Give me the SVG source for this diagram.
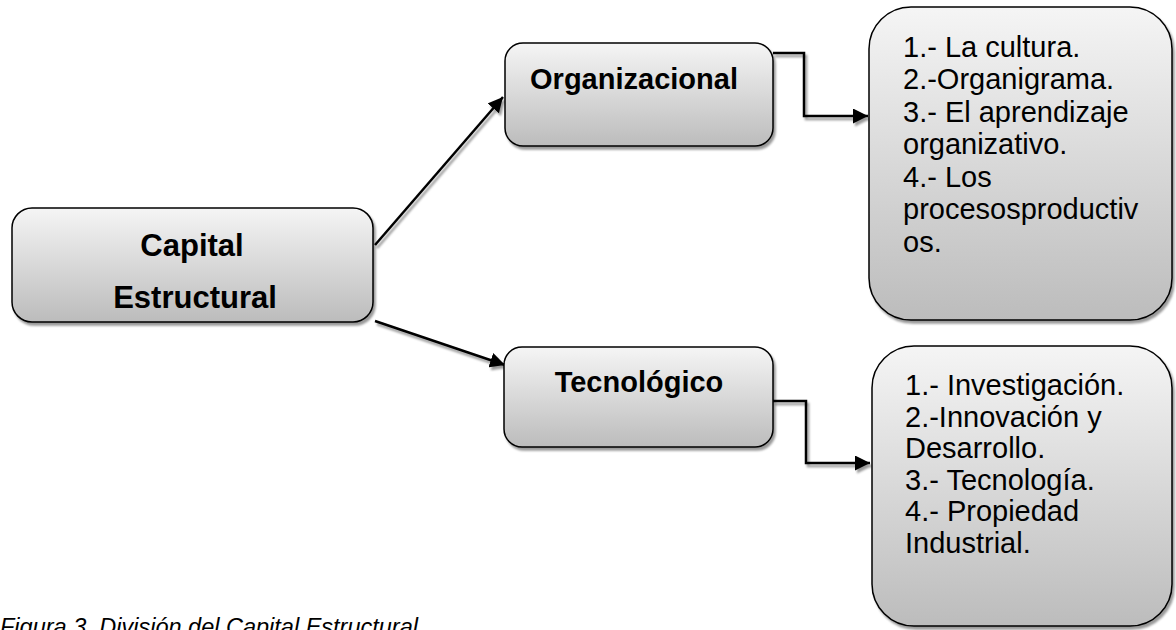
<svg xmlns="http://www.w3.org/2000/svg" width="1176" height="630" viewBox="0 0 1176 630">
  <defs>
    <linearGradient id="g" x1="0" y1="0" x2="0" y2="1">
      <stop offset="0" stop-color="#f5f5f5"/>
      <stop offset="1" stop-color="#bcbcbc"/>
    </linearGradient>
    <filter id="sh" x="-10%" y="-10%" width="130%" height="130%">
      <feDropShadow dx="2" dy="3" stdDeviation="1" flood-color="#000" flood-opacity="0.4"/>
    </filter>
    <marker id="ah" viewBox="0 0 10 10" refX="10" refY="5" markerWidth="15" markerHeight="15" markerUnits="userSpaceOnUse" orient="auto">
      <path d="M0,0 L10,5 L0,10 z" fill="#000"/>
    </marker>
    <style>
      .box { fill: url(#g); stroke: #000; stroke-width: 1.5; filter: url(#sh); }
      .bold { font-family: "Liberation Sans", Arial, sans-serif; font-weight: bold; fill: #000; text-anchor: middle; }
      .list { font-family: "Liberation Sans", Arial, sans-serif; font-size: 29px; fill: #000; }
      .conn { fill: none; stroke: #000; stroke-width: 2.5; filter: url(#sh); }
      .cap { font-family: "Liberation Sans", Arial, sans-serif; font-style: italic; font-size: 23.5px; fill: #000; }
    </style>
  </defs>

  <g id="connectors">
    <path class="conn" d="M375,245 L503,97" marker-end="url(#ah)"/>
    <path class="conn" d="M375,321 L505,365" marker-end="url(#ah)"/>
    <path class="conn" d="M773,53 H804 V116 H868" marker-end="url(#ah)"/>
    <path class="conn" d="M773,401 H806 V463 H870" marker-end="url(#ah)"/>
  </g>

  <g id="node-capital">
    <rect class="box" x="12" y="208" width="361" height="114" rx="20"/>
    <text class="bold" x="192" y="256" font-size="31">Capital</text>
    <text class="bold" x="195" y="308" font-size="31">Estructural</text>
  </g>

  <g id="node-organizacional">
    <rect class="box" x="505" y="43" width="268" height="103" rx="18"/>
    <text class="bold" x="634" y="89" font-size="29">Organizacional</text>
  </g>

  <g id="node-tecnologico">
    <rect class="box" x="504" y="347" width="269" height="100" rx="18"/>
    <text class="bold" x="639" y="392" font-size="29">Tecnológico</text>
  </g>

  <g id="node-lista-organizacional">
    <rect class="box" x="869" y="7" width="303" height="313" rx="42"/>
    <text class="list" x="903" y="57">1.- La cultura.</text>
    <text class="list" x="903" y="89">2.-Organigrama.</text>
    <text class="list" x="903" y="122">3.- El aprendizaje</text>
    <text class="list" x="903" y="154">organizativo.</text>
    <text class="list" x="903" y="187">4.- Los</text>
    <text class="list" x="903" y="219">procesosproductiv</text>
    <text class="list" x="903" y="252">os.</text>
  </g>

  <g id="node-lista-tecnologico">
    <rect class="box" x="872" y="346" width="300" height="280" rx="42"/>
    <text class="list" x="905" y="395">1.- Investigación.</text>
    <text class="list" x="905" y="427">2.-Innovación y</text>
    <text class="list" x="905" y="458">Desarrollo.</text>
    <text class="list" x="905" y="490">3.- Tecnología.</text>
    <text class="list" x="905" y="521">4.- Propiedad</text>
    <text class="list" x="905" y="553">Industrial.</text>
  </g>

  <text class="cap" x="0" y="635">Figura 3. División del Capital Estructural</text>
</svg>
